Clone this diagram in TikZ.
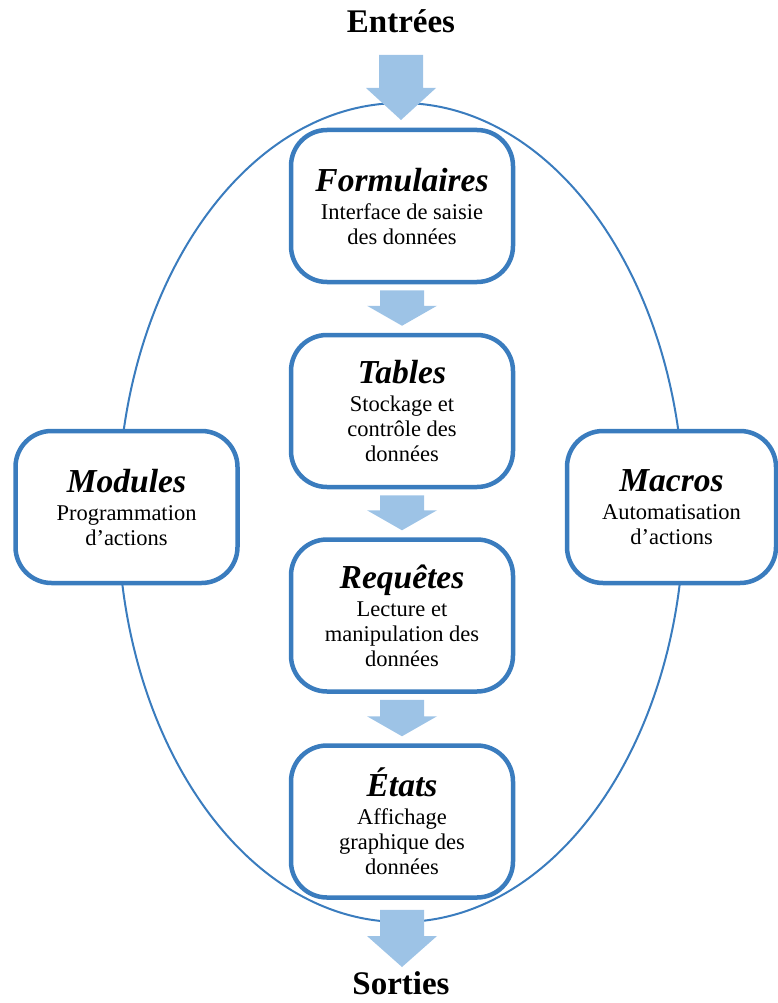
\documentclass[tikz,border=0pt]{standalone}
\usepackage{fontspec}
\setmainfont{Liberation Serif}
\usetikzlibrary{calc}
\definecolor{boxblue}{HTML}{3A7CBE}
\definecolor{arrowblue}{HTML}{9DC3E6}
\newcommand\ttlf[1]{{\fontsize{33.5}{28}\selectfont\bfseries\itshape #1}}
\newcommand\blockarrow[3]{%
  \fill[arrowblue] let \p1=(#1), \p2=(#2) in
  ({\x1-22pt},\y1) -- ({\x1+22pt},\y1) -- ({\x1+22pt},{\y2+#3pt}) -- ({\x1+35pt},{\y2+#3pt})
  -- (\x1,\y2) -- ({\x1-35pt},{\y2+#3pt}) -- ({\x1-22pt},{\y2+#3pt}) -- cycle;}
\begin{document}
\begin{tikzpicture}[x=1pt,y=-1pt,
  box/.style={draw=boxblue, line width=4.5pt, fill=white, rounded corners=36pt,
    minimum width=222pt, minimum height=152pt, align=center,
    font=\fontsize{22.5}{25}\selectfont, inner sep=0pt},
  io/.style={font=\fontsize{33}{36}\selectfont\bfseries, inner sep=0pt, anchor=base}]
\useasboundingbox (0,0) rectangle (778,1003);
\draw[boxblue, line width=2pt] (401,512.5) ellipse [x radius=283, y radius=409.5];
\node[io] (in) at (401,33) {Entrées};
\node[io] (out) at (401,994) {Sorties};
\node[box] (f) at (402,206) {\ttlf{Formulaires}\\[3pt]Interface de saisie\\des données};
\node[box] (t) at (402,411) {\ttlf{Tables}\\[3pt]Stockage et\\contrôle des\\données};
\node[box] (r) at (402,615.5) {\ttlf{Requêtes}\\[3pt]Lecture et\\manipulation des\\données};
\node[box] (e) at (402,821.5) {\ttlf{États}\\[3pt]Affichage\\graphique des\\données};
\node[box] (m) at (126.5,507) {\ttlf{Modules}\\[3pt]Programmation\\d’actions};
\node[box, minimum width=209pt] (k) at (671.5,507) {\ttlf{Macros}\\[3pt]Automatisation\\d’actions};
\coordinate (a0) at (401,55);
\coordinate (a1) at (401,120);
\blockarrow{a0}{a1}{32}
\blockarrow{$(f.south)+(0,6)$}{$(t.north)+(0,-7)$}{20}
\blockarrow{$(t.south)+(0,6)$}{$(r.north)+(0,-7)$}{20}
\blockarrow{$(r.south)+(0,6)$}{$(e.north)+(0,-7)$}{20}
\coordinate (b1) at (401,967);
\blockarrow{$(e.south)+(0,10)$}{b1}{31}
\end{tikzpicture}
\end{document}
